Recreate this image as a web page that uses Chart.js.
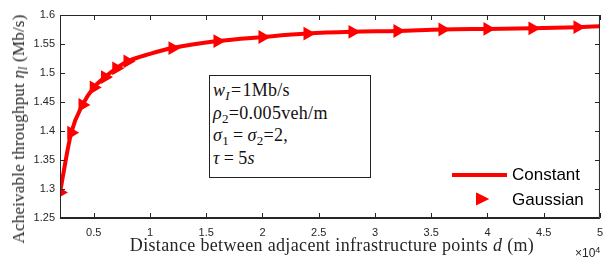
<!DOCTYPE html>
<html><head><meta charset="utf-8">
<script src="https://cdn.jsdelivr.net/npm/chart.js@4"></script>
<style>
html,body{margin:0;padding:0;background:#fff;}
#wrap{position:relative;width:611px;height:259px;overflow:hidden;}
canvas{position:absolute;left:0;top:0;}
.serif{font-family:"Liberation Serif","DejaVu Serif",serif;color:#262626;position:absolute;white-space:nowrap;}
#ann{position:absolute;left:209px;top:75px;width:162px;height:103px;border:1px solid #222;background:#fff;
 font-family:"Liberation Serif",serif;font-size:18px;line-height:22.5px;color:#111;padding:3px 0 0 3px;box-sizing:border-box;letter-spacing:0.3px;white-space:nowrap;}
#ann sub{font-size:13px;vertical-align:-4px;line-height:0;}
#ann .eq{padding:0 4px;}
#ann .eq2{padding:0 1px;}
#ylab{left:19px;top:129px;transform:translate(-50%,-50%) rotate(-90deg);font-size:17px;letter-spacing:0.2px;}
#ylab sub{font-size:12px;vertical-align:-3px;line-height:0;}
#xlab{left:332px;top:245px;transform:translate(-50%,-50%);font-size:18px;letter-spacing:0.35px;}
#xexp{position:absolute;left:575px;top:247px;height:12px;line-height:12px;font-family:"Liberation Sans",Arial,sans-serif;font-size:12px;color:#262626;white-space:nowrap;}
#xexp sup{font-size:9px;position:relative;top:-4px;vertical-align:baseline;line-height:0;}
</style></head>
<body><div id="wrap"><canvas id="c" width="611" height="259"></canvas>
<div id="ylab" class="serif">Acheivable throughput <i>η<sub>l</sub></i> (Mb/s)</div>
<div id="xlab" class="serif">Distance between adjacent infrastructure points <i>d</i> (m)</div>
<div id="xexp">×10<sup>4</sup></div>
<div id="ann"><i>w<sub>I</sub></i><span class="eq2">=</span>1Mb/s<br><i>ρ</i><sub>2</sub>=0.005veh/m<br><i>σ</i><sub>1</sub><span class="eq">=</span><i>σ</i><sub>2</sub>=2,<br><i>τ</i><span class="eq">=</span>5<i>s</i></div>
</div>
<script>
const constX = [2000,3000,4000,5000,6000,7000,8000,10000,12000,16000,20000,24000,28000,32000,36000,40000,44000,48000,50000];
const constY = [1.294,1.397,1.445,1.475,1.493,1.508,1.520,1.533,1.543,1.555,1.562,1.568,1.571,1.5725,1.575,1.576,1.577,1.579,1.5805];
const gaussX = [2000,3000,4000,5000,6000,7000,8000,12000,16000,20000,24000,28000,32000,36000,40000,44000,48000];
const gaussY = [1.294,1.397,1.445,1.475,1.493,1.508,1.520,1.543,1.555,1.562,1.568,1.571,1.5725,1.575,1.576,1.577,1.579];
const xTicks = [5000,10000,15000,20000,25000,30000,35000,40000,45000,50000];
const yTicks = [1.25,1.3,1.35,1.4,1.45,1.5,1.55,1.6];
const labels = ['Constant','Gaussian'];

const AX = '#262626';
const boxPlugin = {
  id:'box',
  afterDraw(chart){
    const ctx = chart.ctx, a = chart.chartArea, xs = chart.scales.x, ys = chart.scales.y;
    ctx.save();
    ctx.strokeStyle = AX; ctx.lineWidth = 1;
    ctx.beginPath();
    ctx.rect(a.left+0.5, a.top+0.5, a.right-a.left-1, a.bottom-a.top-1);
    const L = 5;
    xTicks.forEach(v=>{const p=Math.round(xs.getPixelForValue(v))+0.5;
      ctx.moveTo(p,a.bottom); ctx.lineTo(p,a.bottom-L); ctx.moveTo(p,a.top); ctx.lineTo(p,a.top+L);});
    yTicks.forEach(v=>{const p=Math.round(ys.getPixelForValue(v))+0.5;
      ctx.moveTo(a.left,p); ctx.lineTo(a.left+L,p); ctx.moveTo(a.right,p); ctx.lineTo(a.right-L,p);});
    ctx.stroke();
    // legend
    ctx.strokeStyle='#ff0000'; ctx.lineWidth=4;
    ctx.beginPath(); ctx.moveTo(452,175); ctx.lineTo(507,175); ctx.stroke();
    ctx.fillStyle='#ff0000'; ctx.lineWidth=2;
    ctx.beginPath(); ctx.moveTo(477,194); ctx.lineTo(487,199); ctx.lineTo(477,204); ctx.closePath(); ctx.fill(); ctx.stroke();
    ctx.fillStyle='#000'; ctx.font='17px "Liberation Sans", Arial, sans-serif'; ctx.textBaseline='middle';
    ctx.fillText(labels[0],512,175); ctx.fillText(labels[1],512,200);
    ctx.restore();
  }
};

new Chart(document.getElementById('c'),{
  type:'scatter',
  data:{datasets:[
    {label:labels[0],data:constX.map((x,i)=>({x,y:constY[i]})),showLine:true,borderColor:'#ff0000',borderWidth:4,pointRadius:0,cubicInterpolationMode:'monotone',order:2},
    {label:labels[1],data:gaussX.map((x,i)=>({x,y:gaussY[i]})),showLine:false,pointStyle:'triangle',rotation:90,pointRadius:6,borderColor:'#ff0000',backgroundColor:'#ff0000',borderWidth:2,order:1}
  ]},
  options:{
    responsive:false,animation:false,
    layout:{padding:{top:15,right:6,left:0,bottom:0}},
    plugins:{legend:{display:false},tooltip:{enabled:false}},
    scales:{
      x:{type:'linear',min:2000,max:50000,
        afterBuildTicks(s){s.ticks=xTicks.map(v=>({value:v}));},
        afterFit(s){s.height=41;},
        grid:{display:false,drawTicks:false},border:{display:true,color:AX},
        ticks:{padding:8,color:AX,font:{family:'"Liberation Sans", Arial, sans-serif',size:11},callback:v=>String(+(v/1e4).toFixed(2))}},
      y:{min:1.25,max:1.6,
        afterBuildTicks(s){s.ticks=yTicks.map(v=>({value:v}));},
        afterFit(s){s.width=60;},
        grid:{display:false,drawTicks:false},border:{display:true,color:AX},
        ticks:{padding:5,color:AX,font:{family:'"Liberation Sans", Arial, sans-serif',size:11},callback:v=>String(+v.toFixed(2))}}
    }
  },
  plugins:[boxPlugin]
});
</script></body></html>
